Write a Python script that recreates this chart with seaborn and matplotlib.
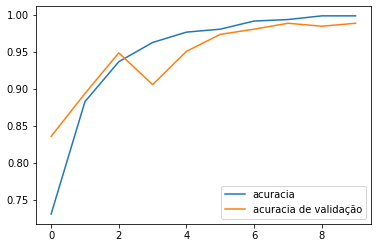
import matplotlib
matplotlib.use("Agg")
import matplotlib.pyplot as plt
import seaborn as sns
import pandas as pd

epochs = [0, 1, 2, 3, 4, 5, 6, 7, 8, 9]
acuracia = [0.731, 0.883, 0.937, 0.963, 0.977, 0.981, 0.992, 0.994, 0.999, 0.999]
val_acuracia = [0.836, 0.894, 0.949, 0.906, 0.951, 0.974, 0.981, 0.989, 0.985, 0.989]
labels = ["acuracia", "acuracia de validação"]

fig = plt.figure(figsize=(378/72, 248/72), dpi=72)
ax = fig.add_axes([0.095, 0.097, 0.886, 0.879])
sns.lineplot(x=epochs, y=acuracia, ax=ax, label=labels[0], color="#1f77b4", linewidth=1.5)
sns.lineplot(x=epochs, y=val_acuracia, ax=ax, label=labels[1], color="#ff7f0e", linewidth=1.5)
ax.set_xticks([0, 2, 4, 6, 8])
ax.legend(loc="lower right")
fig.savefig("out.png", dpi=72, facecolor="white")
